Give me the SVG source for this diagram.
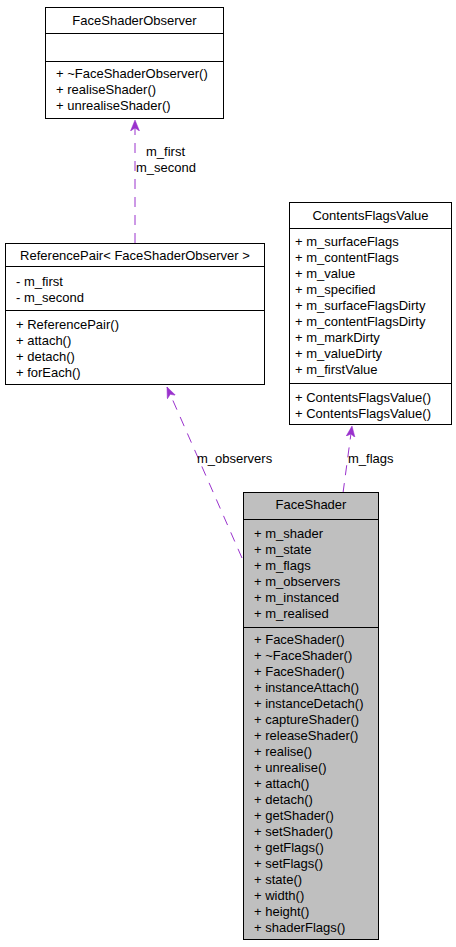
<svg xmlns="http://www.w3.org/2000/svg" width="456" height="947" viewBox="0 0 456 947">
<style>
text{font-family:"Liberation Sans",Arial,Helvetica,sans-serif;font-size:13px;fill:#000}
.t{text-anchor:middle}
.box{fill:#fff;stroke:#000;stroke-width:1}
.cur{fill:#bfbfbf;stroke:#000;stroke-width:1}
.div{stroke:#000;stroke-width:1}
.edge{fill:none;stroke:#9a32cd;stroke-width:1;stroke-dasharray:10,8}
</style>
<defs>
<marker id="vee" markerWidth="12" markerHeight="10" refX="11" refY="5" orient="auto" markerUnits="userSpaceOnUse">
<path d="M11,5 L0,0.5 L3,5 L0,9.5 Z" fill="#9a32cd" stroke="#9a32cd" stroke-width="0.5"/>
</marker>
</defs>
<g id="edges">
<line class="edge" x1="135" y1="243" x2="135" y2="120" marker-end="url(#vee)"/>
<text x="146" y="156">m_first</text>
<text x="136" y="172">m_second</text>
<line class="edge" x1="242" y1="558" x2="167" y2="387" marker-end="url(#vee)"/>
<text x="197" y="463">m_observers</text>
<line class="edge" x1="343" y1="493" x2="352" y2="426" marker-end="url(#vee)"/>
<text x="348" y="463">m_flags</text>
</g>
<g id="FaceShaderObserver">
<rect class="box" x="45.5" y="7.5" width="178" height="111"/>
<line class="div" x1="45.5" y1="33.5" x2="223.5" y2="33.5"/>
<line class="div" x1="45.5" y1="61.5" x2="223.5" y2="61.5"/>
<text class="t" x="134.5" y="25">FaceShaderObserver</text>
<text x="56" y="78">+ ~FaceShaderObserver()</text>
<text x="56" y="93.5">+ realiseShader()</text>
<text x="56" y="109.5">+ unrealiseShader()</text>
</g>
<g id="ReferencePair">
<rect class="box" x="5.5" y="243.5" width="259" height="141"/>
<line class="div" x1="5.5" y1="266.5" x2="264.5" y2="266.5"/>
<line class="div" x1="5.5" y1="310.5" x2="264.5" y2="310.5"/>
<text class="t" x="135" y="260">ReferencePair&lt; FaceShaderObserver &gt;</text>
<text x="16" y="285.5">- m_first</text>
<text x="16" y="301.5">- m_second</text>
<text x="16" y="328.5">+ ReferencePair()</text>
<text x="16" y="344.5">+ attach()</text>
<text x="16" y="360.5">+ detach()</text>
<text x="16" y="376.5">+ forEach()</text>
</g>
<g id="ContentsFlagsValue">
<rect class="box" x="289.5" y="202.5" width="162" height="222"/>
<line class="div" x1="289.5" y1="228.5" x2="451.5" y2="228.5"/>
<line class="div" x1="289.5" y1="383.5" x2="451.5" y2="383.5"/>
<text class="t" x="370.5" y="219.5">ContentsFlagsValue</text>
<text x="295" y="245.5">+ m_surfaceFlags</text>
<text x="295" y="261.5">+ m_contentFlags</text>
<text x="295" y="277.5">+ m_value</text>
<text x="295" y="293.5">+ m_specified</text>
<text x="295" y="309.5">+ m_surfaceFlagsDirty</text>
<text x="295" y="325.5">+ m_contentFlagsDirty</text>
<text x="295" y="341.5">+ m_markDirty</text>
<text x="295" y="357.5">+ m_valueDirty</text>
<text x="295" y="373.5">+ m_firstValue</text>
<text x="295" y="401.5">+ ContentsFlagsValue()</text>
<text x="295" y="417.5">+ ContentsFlagsValue()</text>
</g>
<g id="FaceShader">
<rect class="cur" x="243.5" y="492.5" width="135" height="447"/>
<line class="div" x1="243.5" y1="519.5" x2="378.5" y2="519.5"/>
<line class="div" x1="243.5" y1="627.5" x2="378.5" y2="627.5"/>
<text class="t" x="311" y="508.5">FaceShader</text>
<text x="254" y="537.5">+ m_shader</text>
<text x="254" y="553.5">+ m_state</text>
<text x="254" y="569.5">+ m_flags</text>
<text x="254" y="585.5">+ m_observers</text>
<text x="254" y="601.5">+ m_instanced</text>
<text x="254" y="617.5">+ m_realised</text>
<text x="254" y="644">+ FaceShader()</text>
<text x="254" y="660">+ ~FaceShader()</text>
<text x="254" y="676">+ FaceShader()</text>
<text x="254" y="692">+ instanceAttach()</text>
<text x="254" y="708">+ instanceDetach()</text>
<text x="254" y="724">+ captureShader()</text>
<text x="254" y="740">+ releaseShader()</text>
<text x="254" y="756">+ realise()</text>
<text x="254" y="772">+ unrealise()</text>
<text x="254" y="788">+ attach()</text>
<text x="254" y="804">+ detach()</text>
<text x="254" y="820">+ getShader()</text>
<text x="254" y="836">+ setShader()</text>
<text x="254" y="852">+ getFlags()</text>
<text x="254" y="868">+ setFlags()</text>
<text x="254" y="884">+ state()</text>
<text x="254" y="900">+ width()</text>
<text x="254" y="916">+ height()</text>
<text x="254" y="932">+ shaderFlags()</text>
</g>
</svg>
